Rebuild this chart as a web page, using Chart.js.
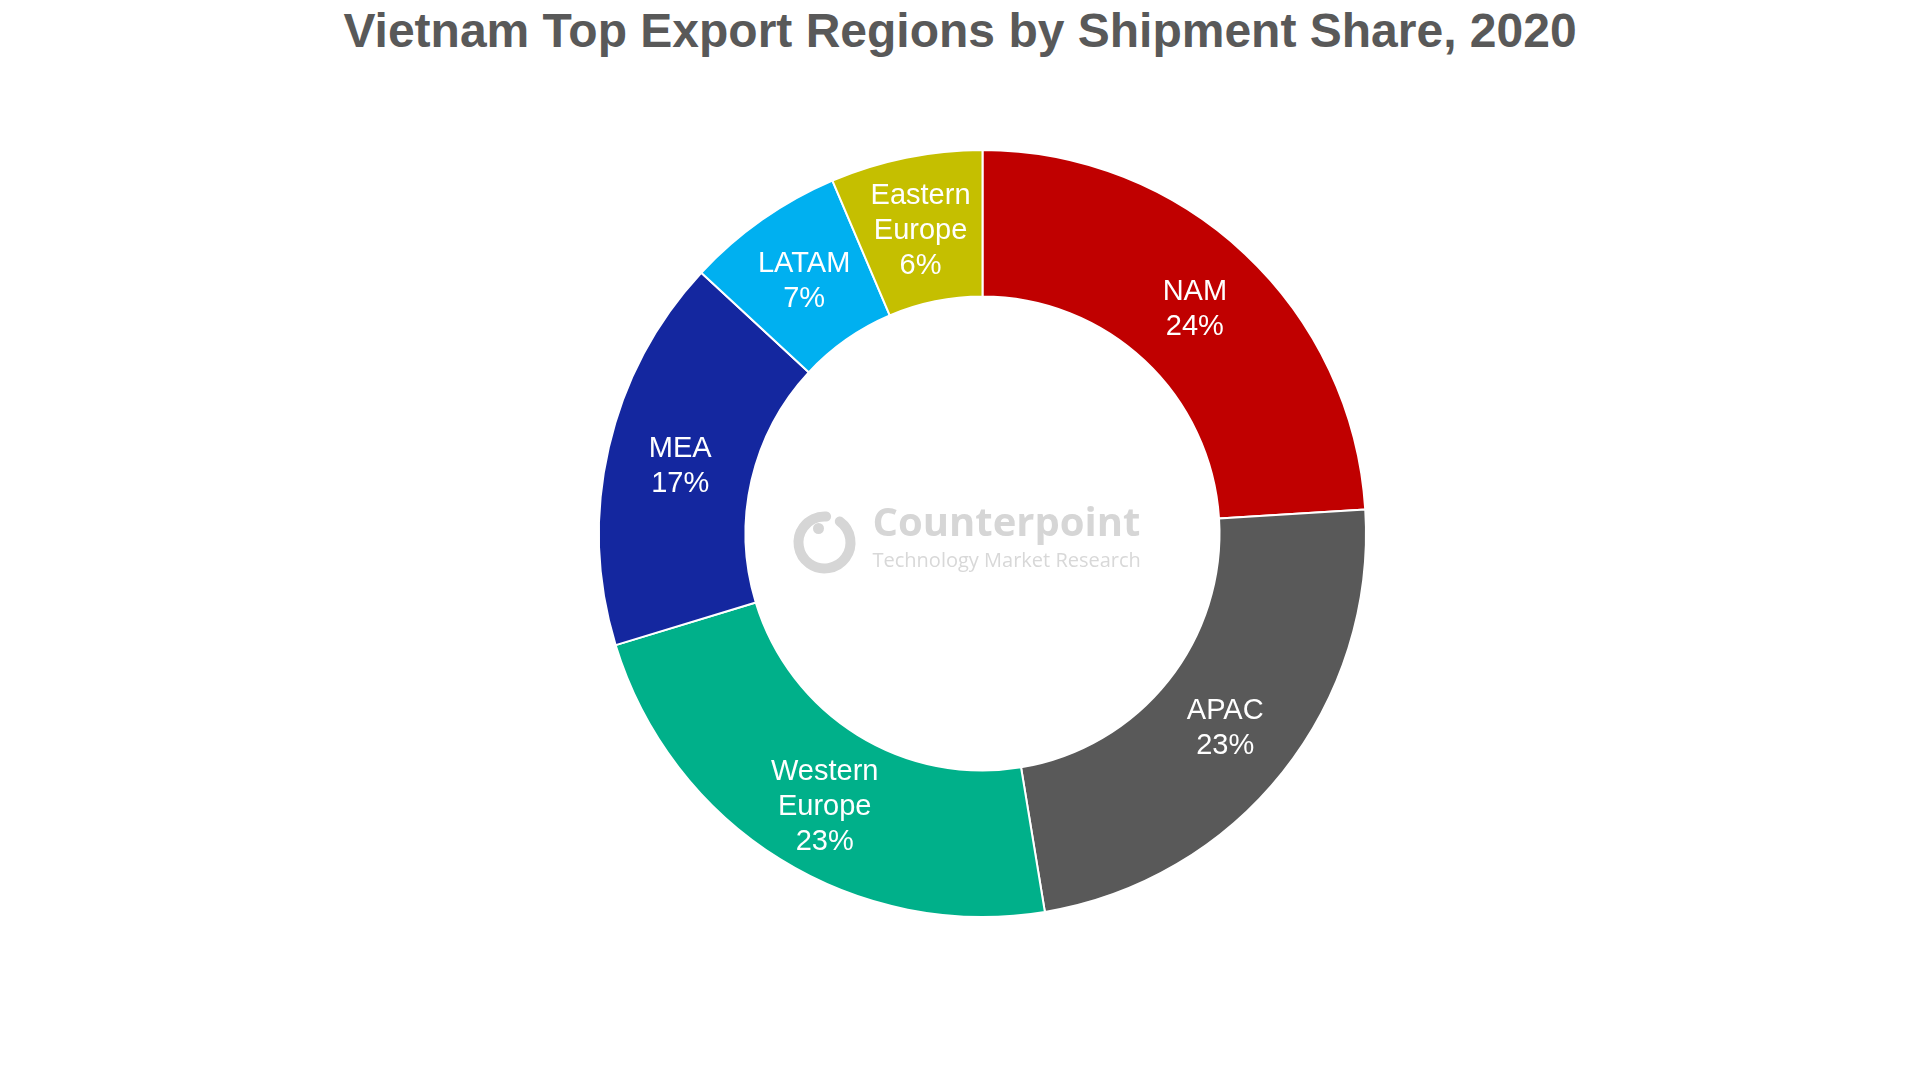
<!DOCTYPE html>
<html lang="en">
<head>
    <meta charset="UTF-8">
    <title>Vietnam Top Export Regions by Shipment Share, 2020</title>
    <script src="https://cdn.jsdelivr.net/npm/chart.js"></script>
    <style>
        html, body { margin: 0; padding: 0; background: #fff; }
        #wrap { position: relative; width: 1920px; height: 1068px; }
        #titulo {
            position: absolute; top: 0; left: 0; width: 1920px;
            text-align: center; margin: 0;
            font: bold 48px "Liberation Sans", Arial, sans-serif;
            color: #595959; line-height: 62px;
        }
        canvas { position: absolute; top: 0; left: 0; }
    </style>
</head>
<body>
<div id="wrap">
    <h1 id="titulo">Vietnam Top Export Regions by Shipment Share, 2020</h1>
    <canvas id="grafico" width="1920" height="1068"></canvas>
</div>

<script>
    // regions, clockwise from 12 o'clock
    const regioes = ['NAM', 'APAC', 'Western Europe', 'MEA', 'LATAM', 'Eastern Europe'];
    // shares (%)
    const participacao = [24.0, 23.4, 22.9, 16.6, 6.7, 6.4];
    // percentages as printed on the slices
    const rotulos = ['24%', '23%', '23%', '17%', '7%', '6%'];
    const cores = ['#C00000', '#595959', '#00B08A', '#14279F', '#00B0F0', '#C5BF00'];

    // white labels in the middle of each slice
    const rotulosPlugin = {
        id: 'rotulos',
        afterDatasetsDraw(chart) {
            const ctx = chart.ctx;
            const meta = chart.getDatasetMeta(0);
            // small nudges so the labels sit like the original ones
            const ajuste = [[0, 2], [0, 2], [6, 10], [0, 3], [0, 2], [0, 2]];
            ctx.save();
            ctx.fillStyle = '#ffffff';
            ctx.font = '29px "Liberation Sans", Arial, sans-serif';
            ctx.textAlign = 'center';
            ctx.textBaseline = 'middle';
            meta.data.forEach((arco, i) => {
                const p = arco.getCenterPoint();
                const linhas = regioes[i].split(' ').concat([rotulos[i]]);
                const alt = 35;
                const x = p.x + ajuste[i][0];
                const y0 = p.y + ajuste[i][1] - (linhas.length - 1) * alt / 2;
                linhas.forEach((l, j) => ctx.fillText(l, x, y0 + j * alt));
            });
            ctx.restore();
        }
    };

    // faint Counterpoint watermark in the hole
    const marcaPlugin = {
        id: 'marca',
        afterDatasetsDraw(chart) {
            const ctx = chart.ctx;
            const meta = chart.getDatasetMeta(0);
            const cx = meta.data[0].x, cy = meta.data[0].y;
            ctx.save();
            ctx.strokeStyle = '#d6d6d6';
            ctx.fillStyle = '#d6d6d6';
            ctx.lineWidth = 10;
            ctx.lineCap = 'round';
            ctx.beginPath();
            ctx.arc(cx - 158, cy + 9, 26, -Math.PI * 0.3, Math.PI * 1.52);
            ctx.stroke();
            ctx.beginPath();
            ctx.arc(cx - 164, cy - 5, 5.5, 0, Math.PI * 2);
            ctx.fill();
            ctx.font = 'bold 40px "Open Sans", "DejaVu Sans", sans-serif';
            ctx.textAlign = 'left';
            ctx.textBaseline = 'alphabetic';
            ctx.fillText('Counterpoint', cx - 110, cy + 2);
            ctx.fillStyle = '#d8d8d8';
            ctx.font = '20px "Open Sans", "DejaVu Sans", sans-serif';
            ctx.fillText('Technology Market Research', cx - 110, cy + 33);
            ctx.restore();
        }
    };

    new Chart(document.getElementById('grafico'), {
        type: 'doughnut',
        data: {
            labels: regioes,
            datasets: [{
                data: participacao,
                backgroundColor: cores,
                borderColor: '#ffffff',
                borderWidth: 2,
                hoverOffset: 0
            }]
        },
        options: {
            responsive: false,
            animation: false,
            cutout: '61.8%',
            layout: { padding: { top: 149, bottom: 150, left: 245, right: 200 } },
            plugins: {
                legend: { display: false },
                tooltip: { enabled: false }
            }
        },
        plugins: [rotulosPlugin, marcaPlugin]
    });
</script>
</body>
</html>
